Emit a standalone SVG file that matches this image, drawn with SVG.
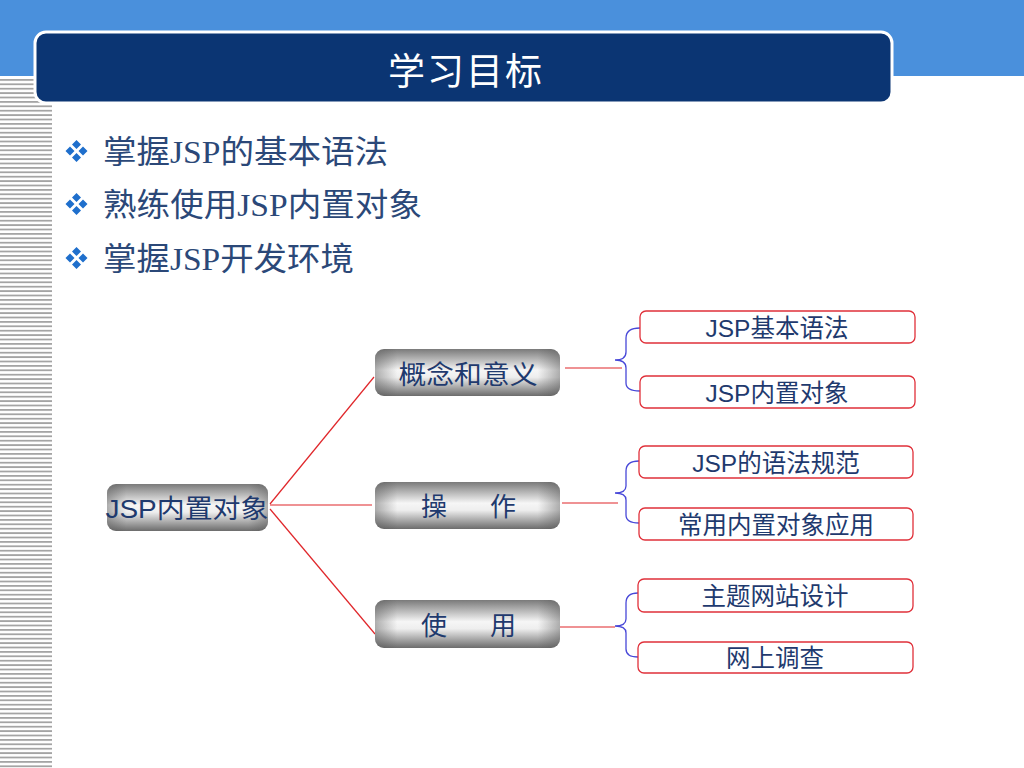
<svg xmlns="http://www.w3.org/2000/svg" width="1024" height="768" viewBox="0 0 1024 768">
  <defs>
    <pattern id="stripes" x="0" y="79" width="52" height="4.4" patternUnits="userSpaceOnUse">
      <rect x="0" y="0" width="52" height="1.8" fill="#a4a4a4"/>
    </pattern>
    <linearGradient id="gray" x1="0" y1="0" x2="0" y2="1">
      <stop offset="0" stop-color="#7a7a7a"/>
      <stop offset="0.45" stop-color="#f6f6f6"/>
      <stop offset="0.6" stop-color="#eeeeee"/>
      <stop offset="1" stop-color="#6c6c6c"/>
    </linearGradient>
    <linearGradient id="edge" x1="0" y1="0" x2="1" y2="0">
      <stop offset="0" stop-color="#555" stop-opacity="0.45"/>
      <stop offset="0.12" stop-color="#555" stop-opacity="0"/>
      <stop offset="0.88" stop-color="#555" stop-opacity="0"/>
      <stop offset="1" stop-color="#555" stop-opacity="0.45"/>
    </linearGradient>
    <g id="bullet">
      <path d="M0,-11 L4.5,-6.5 L0,-2 L-4.5,-6.5 Z M0,2 L4.5,6.5 L0,11 L-4.5,6.5 Z M-11,0 L-6.5,-4.5 L-2,0 L-6.5,4.5 Z M11,0 L6.5,-4.5 L2,0 L6.5,4.5 Z" fill="#1f6fcc"/>
    </g>
  </defs>
  <style>
    .bul { font-family: "Liberation Serif", "Noto Sans CJK SC", serif; font-size: 32px; fill: #2b4878; }
    .mid { font-family: "Liberation Sans", "Noto Sans CJK SC", sans-serif; font-size: 26px; fill: #1f3a6e; text-anchor: middle; }
    .leaf { font-family: "Liberation Sans", "Noto Sans CJK SC", sans-serif; font-size: 24.5px; fill: #1f3a6e; text-anchor: middle; }
    .gnode { fill: url(#gray); }
    .gedge { fill: url(#edge); }
    .lbox { fill: #ffffff; stroke: #e0303a; stroke-width: 1.3; }
    .red { stroke: #e0262a; stroke-width: 1.2; fill: none; }
    .brace { stroke: #4848d8; stroke-width: 1.3; fill: none; }
  </style>

  <rect x="0" y="0" width="1024" height="768" fill="#ffffff"/>
  <rect x="0" y="0" width="1024" height="76" fill="#4a90dc"/>
  <rect x="0" y="79" width="52" height="689" fill="url(#stripes)"/>

  <g id="header">
    <rect x="35" y="32" width="857" height="71" rx="11" fill="#0b3573" stroke="#ffffff" stroke-width="3"/>
    <text x="466" y="85" font-family="Liberation Sans, Noto Sans CJK SC, sans-serif" font-size="37" fill="#ffffff" text-anchor="middle" letter-spacing="2">学习目标</text>
  </g>

  <g id="bullets">
    <use href="#bullet" x="76.5" y="151"/>
    <text class="bul" x="103" y="163" textLength="285" lengthAdjust="spacingAndGlyphs">掌握JSP的基本语法</text>
    <use href="#bullet" x="76.5" y="204"/>
    <text class="bul" x="103" y="216" textLength="319" lengthAdjust="spacingAndGlyphs">熟练使用JSP内置对象</text>
    <use href="#bullet" x="76.5" y="258"/>
    <text class="bul" x="103" y="270" textLength="251" lengthAdjust="spacingAndGlyphs">掌握JSP开发环境</text>
  </g>

  <g id="connectors">
    <line class="red" x1="270" y1="504" x2="374" y2="377"/>
    <line class="red" x1="270" y1="505" x2="372" y2="505"/>
    <line class="red" x1="270" y1="509" x2="375" y2="634"/>
    <line class="red" x1="565" y1="368" x2="622" y2="368"/>
    <line class="red" x1="562" y1="503" x2="618" y2="503"/>
    <line class="red" x1="560" y1="627" x2="615" y2="627"/>
    <path class="brace" d="M640,328 Q626,328 626,338 L626,352 Q626,360 615,360 Q626,360 626,368 L626,383 Q626,391 640,391"/>
    <path class="brace" d="M639,461 Q626,461 626,471 L626,486 Q626,493 615,493 Q626,493 626,500 L626,515 Q626,523 639,523"/>
    <path class="brace" d="M638,593 Q626,593 626,603 L626,619 Q626,626 615,626 Q626,626 626,633 L626,649 Q626,657 638,657"/>
  </g>

  <g id="root">
    <rect class="gnode" x="107" y="484" width="161" height="47" rx="9"/>
    <rect class="gedge" x="107" y="484" width="161" height="47" rx="9"/>
    <text class="mid" x="187" y="518" textLength="163" lengthAdjust="spacingAndGlyphs">JSP内置对象</text>
  </g>

  <g id="n-concept">
    <rect class="gnode" x="375" y="349" width="185" height="47" rx="9"/>
    <rect class="gedge" x="375" y="349" width="185" height="47" rx="9"/>
    <text class="mid" x="468" y="384" textLength="139" lengthAdjust="spacingAndGlyphs">概念和意义</text>
  </g>

  <g id="n-operate">
    <rect class="gnode" x="375" y="482" width="185" height="47" rx="9"/>
    <rect class="gedge" x="375" y="482" width="185" height="47" rx="9"/>
    <text class="mid" x="468" y="516"><tspan x="434">操</tspan><tspan x="503">作</tspan></text>
  </g>

  <g id="n-use">
    <rect class="gnode" x="375" y="600" width="185" height="48" rx="9"/>
    <rect class="gedge" x="375" y="600" width="185" height="48" rx="9"/>
    <text class="mid" x="468" y="635"><tspan x="434">使</tspan><tspan x="503">用</tspan></text>
  </g>

  <g id="leaf1">
    <rect class="lbox" x="640" y="311" width="275" height="32" rx="6"/>
    <text class="leaf" x="777" y="337">JSP基本语法</text>
  </g>
  <g id="leaf2">
    <rect class="lbox" x="640" y="376" width="275" height="32" rx="6"/>
    <text class="leaf" x="777" y="402">JSP内置对象</text>
  </g>
  <g id="leaf3">
    <rect class="lbox" x="639" y="446" width="274" height="32" rx="6"/>
    <text class="leaf" x="776" y="472">JSP的语法规范</text>
  </g>
  <g id="leaf4">
    <rect class="lbox" x="639" y="508" width="274" height="32" rx="6"/>
    <text class="leaf" x="776" y="534">常用内置对象应用</text>
  </g>
  <g id="leaf5">
    <rect class="lbox" x="638" y="579" width="275" height="33" rx="6"/>
    <text class="leaf" x="775" y="605">主题网站设计</text>
  </g>
  <g id="leaf6">
    <rect class="lbox" x="638" y="642" width="275" height="31" rx="6"/>
    <text class="leaf" x="775" y="667">网上调查</text>
  </g>
</svg>
